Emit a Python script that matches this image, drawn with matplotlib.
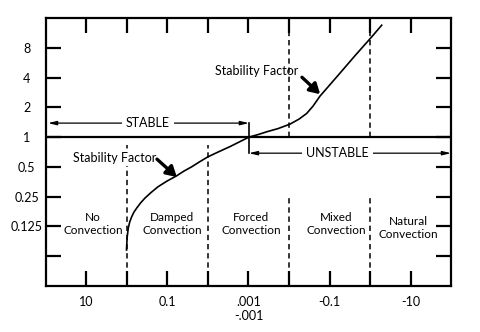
import matplotlib
matplotlib.use('Agg')
import matplotlib.pyplot as plt

plt.rcParams['font.family'] = ['Lato', 'DejaVu Sans']

# Stability factor curve, stable branch (below 1) and unstable branch (above 1)
curve_x = [1.988, 1.993, 2.005, 2.032, 2.067, 2.116, 2.173, 2.240, 2.333, 2.444,
           2.593, 2.765, 2.988, 3.227, 3.407, 3.598, 3.802, 4.000, 4.247, 4.543,
           4.790, 5.012, 5.235, 5.449, 5.728, 6.025, 6.247, 6.437, 6.593, 6.765,
           7.012, 7.259, 7.630, 8.042, 8.289]
curve_y = [1.208, 1.376, 1.644, 1.946, 2.148, 2.326, 2.483, 2.617, 2.785, 2.953,
           3.138, 3.332, 3.523, 3.701, 3.859, 4.003, 4.178, 4.339, 4.497, 4.681,
           4.849, 5.000, 5.084, 5.178, 5.285, 5.436, 5.604, 5.795, 6.040, 6.376,
           6.762, 7.148, 7.735, 8.366, 8.758]

x_ticks = [1, 2, 3, 4, 5, 6, 7, 8, 9]
x_tick_labels = ['10', '', '0.1', '', '.001\n-.001', '', '-0.1', '', '-10']
y_ticks = [1, 2, 3, 4, 5, 6, 7, 8]
y_tick_labels = ['', '0.125', '0.25', '0.5', '1', '2', '4', '8']

regions = ['No\nConvection', 'Damped\nConvection', 'Forced\nConvection',
           'Mixed\nConvection', 'Natural\nConvection']
region_x = [1.16, 3.11, 5.06, 7.16, 8.94]
region_y = [2.08, 2.08, 2.08, 2.08, 1.95]

# dashed boundaries between regimes: (x, y_start, y_end)
boundaries = [(2, 0, 4.73), (4, 0, 4.73), (6, 5, 9), (6, 0, 3.02), (8, 5, 9), (8, 0, 2.98)]

fig = plt.figure(figsize=(4.8, 3.32), dpi=100)
ax = fig.add_axes([0.0958, 0.1386, 0.8438, 0.8072])
ax.set_xlim(0, 10)
ax.set_ylim(0, 9)

for s in ax.spines.values():
    s.set_linewidth(1.6)

ax.set_xticks(x_ticks)
ax.set_xticklabels(x_tick_labels, fontsize=9)
ax.set_yticks(y_ticks)
ax.set_yticklabels(y_tick_labels, fontsize=9, ha='center')
ax.tick_params(axis='both', direction='in', top=True, right=True, length=11, width=1.6)
ax.tick_params(axis='x', pad=7)
ax.tick_params(axis='y', pad=14)

ax.axhline(5, color='black', lw=1.6)

for bx, y0, y1 in boundaries:
    ax.plot([bx, bx], [y0, y1], color='black', lw=1.1, linestyle=(0, (3.5, 2.5)))

ax.plot(curve_x, curve_y, color='black', lw=1.2, solid_joinstyle='round')

for label, rx, ry in zip(regions, region_x, region_y):
    ax.text(rx, ry, label, ha='center', va='center', fontsize=8.5, linespacing=1.25)

# stable / unstable brackets
arrow = dict(arrowstyle='<|-|>,head_length=0.5,head_width=0.12', color='black', lw=0.9,
             shrinkA=0, shrinkB=0)
ax.annotate('', xy=(0.05, 5.47), xytext=(5.01, 5.47), arrowprops=arrow)
ax.annotate('', xy=(5.01, 4.46), xytext=(10.0, 4.46), arrowprops=arrow)
ax.plot([5.01, 5.01], [4.46, 5.47], color='black', lw=1.2)
ax.text(2.52, 5.47, 'STABLE', ha='center', va='center', fontsize=9,
        bbox=dict(facecolor='white', edgecolor='none', pad=3))
ax.text(7.19, 4.46, 'UNSTABLE', ha='center', va='center', fontsize=9,
        bbox=dict(facecolor='white', edgecolor='none', pad=3))

# pointers to the curve
pointer = dict(arrowstyle='-|>,head_length=0.6,head_width=0.35', color='black', lw=2.4,
               shrinkA=0, shrinkB=0)
ax.text(5.20, 7.21, 'Stability Factor', ha='center', va='center', fontsize=9)
ax.annotate('', xy=(6.77, 6.44), xytext=(6.32, 7.01), arrowprops=pointer)
ax.text(1.69, 4.30, 'Stability Factor', ha='center', va='center', fontsize=9, zorder=3,
        bbox=dict(facecolor='white', edgecolor='none', pad=1.5))
ax.annotate('', xy=(3.23, 3.66), xytext=(2.74, 4.26), arrowprops=pointer)

fig.savefig('out.png', dpi=100)
